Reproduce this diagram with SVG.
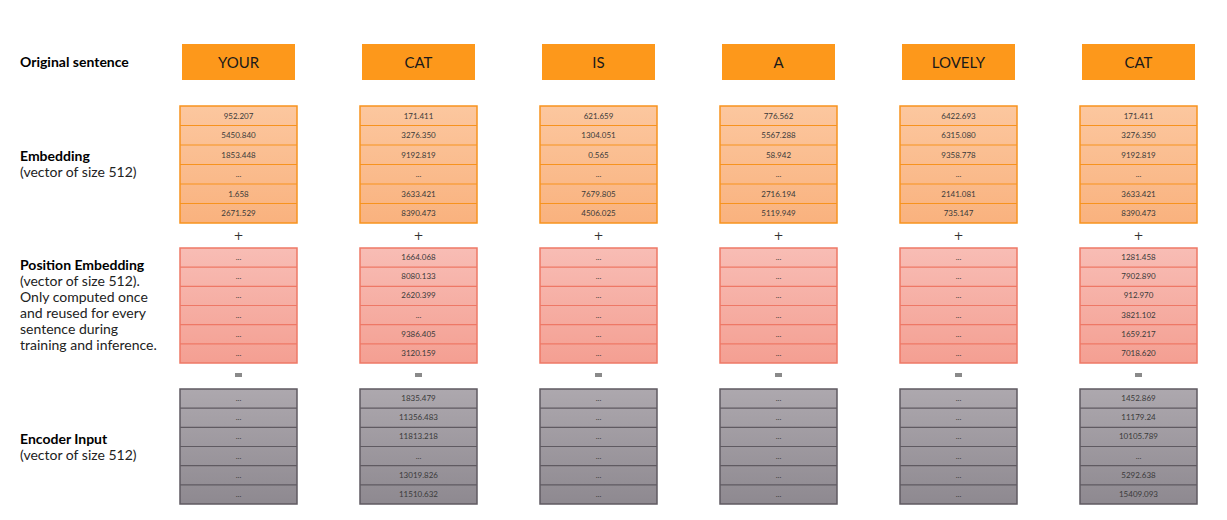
<svg xmlns="http://www.w3.org/2000/svg" width="1227" height="520" viewBox="0 0 1227 520">
<defs>
<linearGradient id="gEmb" x1="0" y1="0" x2="0" y2="1"><stop offset="0" stop-color="#FCC79F"/><stop offset="1" stop-color="#F9B27E"/></linearGradient>
<linearGradient id="gPos" x1="0" y1="0" x2="0" y2="1"><stop offset="0" stop-color="#F8BDB5"/><stop offset="1" stop-color="#F49F92"/></linearGradient>
<linearGradient id="gEnc" x1="0" y1="0" x2="0" y2="1"><stop offset="0" stop-color="#ADA8AE"/><stop offset="1" stop-color="#8E8990"/></linearGradient>
<g id="embVec"><rect x="0" y="0" width="117" height="117" fill="url(#gEmb)" stroke="#F7931E" stroke-width="1.5"/><path d="M0 19.5H117M0 39H117M0 58.5H117M0 78H117M0 97.5H117" stroke="#F7931E" stroke-width="1.2"/></g>
<g id="posVec"><rect x="0" y="0" width="117" height="115" fill="url(#gPos)" stroke="#EE7866" stroke-width="1.5"/><path d="M0 19.2H117M0 38.3H117M0 57.5H117M0 76.7H117M0 95.8H117" stroke="#EE7866" stroke-width="1.2"/></g>
<g id="encVec"><rect x="0" y="0" width="117" height="115" fill="url(#gEnc)" stroke="#5F5A61" stroke-width="1.5"/><path d="M0 19.2H117M0 38.3H117M0 57.5H117M0 76.7H117M0 95.8H117" stroke="#5F5A61" stroke-width="1.2"/></g>
</defs>
<style>
.lbl{font-family:"Lato","Liberation Sans",sans-serif;font-size:14px;fill:#222}
.b{font-weight:bold;fill:#000}
.hdr{fill:#FD981B}
.ht{font-family:"Lato","Liberation Sans",sans-serif;font-size:15px;fill:#1a1a1a;text-anchor:middle}
.c{font-family:"Lato","Liberation Sans",sans-serif;font-size:8px;fill:#3a3a3a;text-anchor:middle}
.op{font-family:"DejaVu Sans","Liberation Sans",sans-serif;font-size:12px;fill:#333;text-anchor:middle}
.eq{fill:#8a8a8a}
</style>
<rect width="1227" height="520" fill="#fff"/>

<g id="labels">
<text class="lbl b" x="20" y="67">Original sentence</text>
<text class="lbl b" x="20" y="161">Embedding</text>
<text class="lbl" x="20" y="177">(vector of size 512)</text>
<text class="lbl b" x="20" y="270">Position Embedding</text>
<text class="lbl" x="20" y="286">(vector of size 512).</text>
<text class="lbl" x="20" y="302">Only computed once</text>
<text class="lbl" x="20" y="318">and reused for every</text>
<text class="lbl" x="20" y="334">sentence during</text>
<text class="lbl" x="20" y="350">training and inference.</text>
<text class="lbl b" x="20" y="444">Encoder Input</text>
<text class="lbl" x="20" y="460">(vector of size 512)</text>
</g>

<g id="col1">
<rect class="hdr" x="182" y="44" width="113" height="36"/><text class="ht" x="238.5" y="68">YOUR</text>
<use href="#embVec" x="180" y="106"/>
<text class="c" x="238.5" y="119">952.207</text><text class="c" x="238.5" y="138">5450.840</text><text class="c" x="238.5" y="158">1853.448</text><text class="c" x="238.5" y="177">...</text><text class="c" x="238.5" y="197">1.658</text><text class="c" x="238.5" y="216">2671.529</text>
<use href="#posVec" x="180" y="248"/>
<text class="c" x="238.5" y="260">...</text><text class="c" x="238.5" y="279">...</text><text class="c" x="238.5" y="298">...</text><text class="c" x="238.5" y="318">...</text><text class="c" x="238.5" y="337">...</text><text class="c" x="238.5" y="356">...</text>
<use href="#encVec" x="180" y="389"/>
<text class="c" x="238.5" y="401">...</text><text class="c" x="238.5" y="420">...</text><text class="c" x="238.5" y="439">...</text><text class="c" x="238.5" y="459">...</text><text class="c" x="238.5" y="478">...</text><text class="c" x="238.5" y="497">...</text>
</g>

<g id="col2">
<rect class="hdr" x="362" y="44" width="113" height="36"/><text class="ht" x="418.5" y="68">CAT</text>
<use href="#embVec" x="360" y="106"/>
<text class="c" x="418.5" y="119">171.411</text><text class="c" x="418.5" y="138">3276.350</text><text class="c" x="418.5" y="158">9192.819</text><text class="c" x="418.5" y="177">...</text><text class="c" x="418.5" y="197">3633.421</text><text class="c" x="418.5" y="216">8390.473</text>
<use href="#posVec" x="360" y="248"/>
<text class="c" x="418.5" y="260">1664.068</text><text class="c" x="418.5" y="279">8080.133</text><text class="c" x="418.5" y="298">2620.399</text><text class="c" x="418.5" y="318">...</text><text class="c" x="418.5" y="337">9386.405</text><text class="c" x="418.5" y="356">3120.159</text>
<use href="#encVec" x="360" y="389"/>
<text class="c" x="418.5" y="401">1835.479</text><text class="c" x="418.5" y="420">11356.483</text><text class="c" x="418.5" y="439">11813.218</text><text class="c" x="418.5" y="459">...</text><text class="c" x="418.5" y="478">13019.826</text><text class="c" x="418.5" y="497">11510.632</text>
</g>

<g id="col3">
<rect class="hdr" x="542" y="44" width="113" height="36"/><text class="ht" x="598.5" y="68">IS</text>
<use href="#embVec" x="540" y="106"/>
<text class="c" x="598.5" y="119">621.659</text><text class="c" x="598.5" y="138">1304.051</text><text class="c" x="598.5" y="158">0.565</text><text class="c" x="598.5" y="177">...</text><text class="c" x="598.5" y="197">7679.805</text><text class="c" x="598.5" y="216">4506.025</text>
<use href="#posVec" x="540" y="248"/>
<text class="c" x="598.5" y="260">...</text><text class="c" x="598.5" y="279">...</text><text class="c" x="598.5" y="298">...</text><text class="c" x="598.5" y="318">...</text><text class="c" x="598.5" y="337">...</text><text class="c" x="598.5" y="356">...</text>
<use href="#encVec" x="540" y="389"/>
<text class="c" x="598.5" y="401">...</text><text class="c" x="598.5" y="420">...</text><text class="c" x="598.5" y="439">...</text><text class="c" x="598.5" y="459">...</text><text class="c" x="598.5" y="478">...</text><text class="c" x="598.5" y="497">...</text>
</g>

<g id="col4">
<rect class="hdr" x="722" y="44" width="113" height="36"/><text class="ht" x="778.5" y="68">A</text>
<use href="#embVec" x="720" y="106"/>
<text class="c" x="778.5" y="119">776.562</text><text class="c" x="778.5" y="138">5567.288</text><text class="c" x="778.5" y="158">58.942</text><text class="c" x="778.5" y="177">...</text><text class="c" x="778.5" y="197">2716.194</text><text class="c" x="778.5" y="216">5119.949</text>
<use href="#posVec" x="720" y="248"/>
<text class="c" x="778.5" y="260">...</text><text class="c" x="778.5" y="279">...</text><text class="c" x="778.5" y="298">...</text><text class="c" x="778.5" y="318">...</text><text class="c" x="778.5" y="337">...</text><text class="c" x="778.5" y="356">...</text>
<use href="#encVec" x="720" y="389"/>
<text class="c" x="778.5" y="401">...</text><text class="c" x="778.5" y="420">...</text><text class="c" x="778.5" y="439">...</text><text class="c" x="778.5" y="459">...</text><text class="c" x="778.5" y="478">...</text><text class="c" x="778.5" y="497">...</text>
</g>

<g id="col5">
<rect class="hdr" x="902" y="44" width="113" height="36"/><text class="ht" x="958.5" y="68">LOVELY</text>
<use href="#embVec" x="900" y="106"/>
<text class="c" x="958.5" y="119">6422.693</text><text class="c" x="958.5" y="138">6315.080</text><text class="c" x="958.5" y="158">9358.778</text><text class="c" x="958.5" y="177">...</text><text class="c" x="958.5" y="197">2141.081</text><text class="c" x="958.5" y="216">735.147</text>
<use href="#posVec" x="900" y="248"/>
<text class="c" x="958.5" y="260">...</text><text class="c" x="958.5" y="279">...</text><text class="c" x="958.5" y="298">...</text><text class="c" x="958.5" y="318">...</text><text class="c" x="958.5" y="337">...</text><text class="c" x="958.5" y="356">...</text>
<use href="#encVec" x="900" y="389"/>
<text class="c" x="958.5" y="401">...</text><text class="c" x="958.5" y="420">...</text><text class="c" x="958.5" y="439">...</text><text class="c" x="958.5" y="459">...</text><text class="c" x="958.5" y="478">...</text><text class="c" x="958.5" y="497">...</text>
</g>

<g id="col6">
<rect class="hdr" x="1082" y="44" width="113" height="36"/><text class="ht" x="1138.5" y="68">CAT</text>
<use href="#embVec" x="1080" y="106"/>
<text class="c" x="1138.5" y="119">171.411</text><text class="c" x="1138.5" y="138">3276.350</text><text class="c" x="1138.5" y="158">9192.819</text><text class="c" x="1138.5" y="177">...</text><text class="c" x="1138.5" y="197">3633.421</text><text class="c" x="1138.5" y="216">8390.473</text>
<use href="#posVec" x="1080" y="248"/>
<text class="c" x="1138.5" y="260">1281.458</text><text class="c" x="1138.5" y="279">7902.890</text><text class="c" x="1138.5" y="298">912.970</text><text class="c" x="1138.5" y="318">3821.102</text><text class="c" x="1138.5" y="337">1659.217</text><text class="c" x="1138.5" y="356">7018.620</text>
<use href="#encVec" x="1080" y="389"/>
<text class="c" x="1138.5" y="401">1452.869</text><text class="c" x="1138.5" y="420">11179.24</text><text class="c" x="1138.5" y="439">10105.789</text><text class="c" x="1138.5" y="459">...</text><text class="c" x="1138.5" y="478">5292.638</text><text class="c" x="1138.5" y="497">15409.093</text>
</g>

<g id="connectors">
<text class="op" x="238.5" y="240">+</text><text class="op" x="418.5" y="240">+</text><text class="op" x="598.5" y="240">+</text><text class="op" x="778.5" y="240">+</text><text class="op" x="958.5" y="240">+</text><text class="op" x="1138.5" y="240">+</text>
<rect class="eq" x="235" y="373" width="7" height="4"/><rect class="eq" x="415" y="373" width="7" height="4"/><rect class="eq" x="595" y="373" width="7" height="4"/><rect class="eq" x="775" y="373" width="7" height="4"/><rect class="eq" x="955" y="373" width="7" height="4"/><rect class="eq" x="1135" y="373" width="7" height="4"/>
</g>
</svg>
